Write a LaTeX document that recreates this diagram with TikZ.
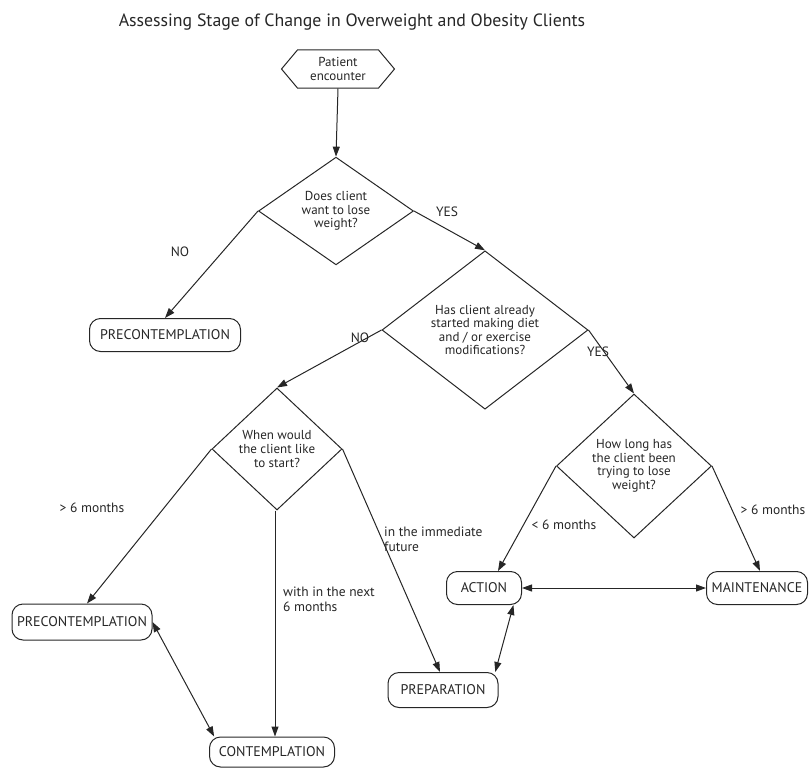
\documentclass[tikz,border=0pt]{standalone}
\usepackage{fontspec}
\setmainfont{PT Sans}
\usetikzlibrary{shapes.geometric,shapes.symbols,arrows.meta,calc}
\definecolor{ink}{HTML}{262626}
\tikzset{
  conn/.style={draw=ink, line width=1pt, -{Triangle[length=10pt,width=7pt]}},
  dconn/.style={draw=ink, line width=1pt, {Triangle[length=10pt,width=7pt]}-{Triangle[length=10pt,width=7pt]}},
  stage/.style={draw=ink, line width=1pt, rounded corners=11pt, minimum height=33pt, inner sep=2pt, font=\fontsize{14}{16}\selectfont, text=ink},
  question/.style={diamond, draw=ink, line width=1pt, inner sep=0pt, align=center, font=\fontsize{13}{13.6}\selectfont, text=ink},
  lbl/.style={font=\fontsize{13.5}{15}\selectfont, text=ink, inner sep=0pt},
}
\begin{document}
\begin{tikzpicture}[x=1pt,y=-1pt]
\useasboundingbox (0,0) rectangle (811,768);
\node[font=\fontsize{17.8}{20}\selectfont, text=ink] (title) at (352,22) {Assessing Stage of Change in Overweight and Obesity Clients};

\node[signal, signal to=east and west, signal pointer angle=100, draw=ink, line width=1pt, minimum width=113pt, minimum height=38pt, inner sep=1pt, align=center, font=\fontsize{13}{14}\selectfont, text=ink] (pe) at (338,69) {Patient\\encounter};

\node[question, minimum width=155pt, minimum height=102pt] (d1) at (336,211) {Does client\\want to lose\\weight?};
\node[question, minimum width=206pt, minimum height=138pt] (d2) at (485,330) {Has client already\\started making diet\\and / or exercise\\modifications?};
\node[question, minimum width=130pt, minimum height=122pt] (d3) at (277,449) {When would\\the client like\\to start?};
\node[question, minimum width=155pt, minimum height=144pt] (d4) at (634,466) {How long has\\the client been\\trying to lose\\weight?};

\node[stage, minimum width=151pt] (pre1) at (165,335) {PRECONTEMPLATION};
\node[stage, minimum width=140pt, minimum height=36pt] (pre2) at (82,622) {PRECONTEMPLATION};
\node[stage, minimum width=125pt, minimum height=30pt] (cont) at (272,752) {CONTEMPLATION};
\node[stage, minimum width=75pt] (act) at (484,588) {ACTION};
\node[stage, minimum width=101pt] (maint) at (757,588) {MAINTENANCE};
\node[stage, minimum width=110pt, minimum height=35pt] (prep) at (443,690) {PREPARATION};

\draw[conn] (pe.south) -- (d1.north);
\draw[conn] (d1.west) -- (pre1.north);
\draw[conn] (d1.east) -- (d2.north);
\draw[conn] (d2.west) -- (d3.north);
\draw[conn] (d2.east) -- (d4.north);
\draw[conn] (d3.west) -- ([xshift=5pt]pre2.north);
\draw[conn] ([xshift=-2pt]d3.south) -- ([xshift=-2pt]d3.south |- cont.north);
\draw[conn] (d3.east) -- ([xshift=-3pt]prep.north);
\draw[conn] (d4.west) -- ([xshift=14pt]act.north);
\draw[conn] (d4.east) -- ([xshift=3pt]maint.north);
\draw[dconn] (act.east) -- (maint.west);
\draw[dconn] (act.-30) -- (prep.19);
\draw[dconn] (pre2.east) -- (cont.165);

\node[lbl] (no1) at (180,252) {NO};
\node[lbl] (yes1) at (447,212) {YES};
\node[lbl] (no2) at (360,338) {NO};
\node[lbl] (yes2) at (598,352) {YES};
\node[lbl] (gt1) at (92,508) {> 6 months};
\node[lbl, align=left, anchor=north west] (within) at (283,587) {with in the next\\6 months};
\node[lbl, align=left, anchor=north west] (immed) at (384,527) {in the immediate\\future};
\node[lbl] (lt) at (564,525) {< 6 months};
\node[lbl] (gt2) at (773,510) {> 6 months};
\end{tikzpicture}
\end{document}
